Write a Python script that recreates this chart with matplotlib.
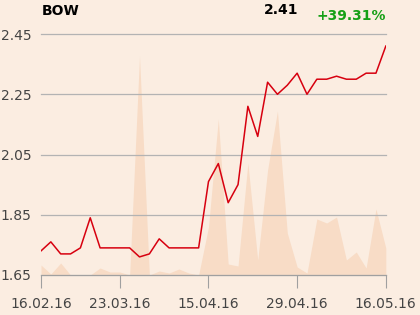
import matplotlib
matplotlib.use("Agg")
import matplotlib.pyplot as plt

# Closing prices (one per trading session)
prices = [1.73, 1.76, 1.72, 1.72, 1.74, 1.84, 1.74, 1.74, 1.74, 1.74,
          1.71, 1.72, 1.77, 1.74, 1.74, 1.74, 1.74, 1.96, 2.02, 1.89,
          1.95, 2.21, 2.11, 2.29, 2.25, 2.28, 2.32, 2.25, 2.30, 2.30,
          2.31, 2.30, 2.30, 2.32, 2.32, 2.41]

# Traded volume (relative units)
volume = [10, 1, 12, 0, 0, 0, 7, 3, 3, 0,
          219, 0, 4, 2, 6, 2, 0, 48, 156, 11,
          9, 112, 15, 105, 164, 42, 8, 2, 56, 52,
          58, 15, 23, 7, 66, 27]

tick_pos = [0, 8, 17, 26, 35]
tick_labels = ["16.02.16", "23.03.16", "15.04.16", "29.04.16", "16.05.16"]
y_ticks = [1.65, 1.85, 2.05, 2.25, 2.45]

bg = "#fbede1"
x = list(range(len(prices)))

fig = plt.figure(figsize=(4.2, 3.15), dpi=100)
fig.patch.set_facecolor(bg)

# volume in the background
axv = fig.add_axes([0.0976, 0.127, 0.821, 0.765])
axv.set_facecolor(bg)
axv.fill_between(x, volume, 0, color="#f8dcc6", linewidth=0)
axv.set_xlim(0, 35)
axv.set_ylim(0, 241)
axv.axis("off")

# price line on top
ax = fig.add_axes([0.0976, 0.127, 0.821, 0.765], sharex=axv)
ax.patch.set_alpha(0)
ax.plot(x, prices, color="#d7000f", linewidth=1.1)
ax.set_xlim(0, 35)
ax.set_ylim(1.65, 2.45)
ax.set_yticks(y_ticks)
ax.set_yticklabels([f"{v:.2f}" for v in y_ticks])
ax.set_xticks(tick_pos)
ax.set_xticklabels(tick_labels)
ax.grid(axis="y", color="#b3b3b3", linewidth=0.9)
for g in ax.get_ygridlines():
    g.set_clip_on(False)
for s in ["top", "right", "left"]:
    ax.spines[s].set_visible(False)
ax.spines["bottom"].set_color("#a0a0a0")
ax.tick_params(axis="y", length=0, labelsize=10, labelcolor="#444444", pad=7)
ax.tick_params(axis="x", length=9.5, color="#a0a0a0", labelsize=10,
               labelcolor="#444444", pad=6)

fig.text(42 / 420, 1 - 11 / 315, "BOW", fontsize=10, fontweight="bold",
         color="black", va="center", ha="left")
fig.text(264 / 420, 1 - 10 / 315, "2.41", fontsize=10, fontweight="bold",
         color="black", va="center", ha="left")
fig.text(386 / 420, 1 - 16 / 315, "+39.31%", fontsize=10, fontweight="bold",
         color="#16a016", va="center", ha="right")

fig.savefig("out.png", dpi=100, facecolor=bg)
